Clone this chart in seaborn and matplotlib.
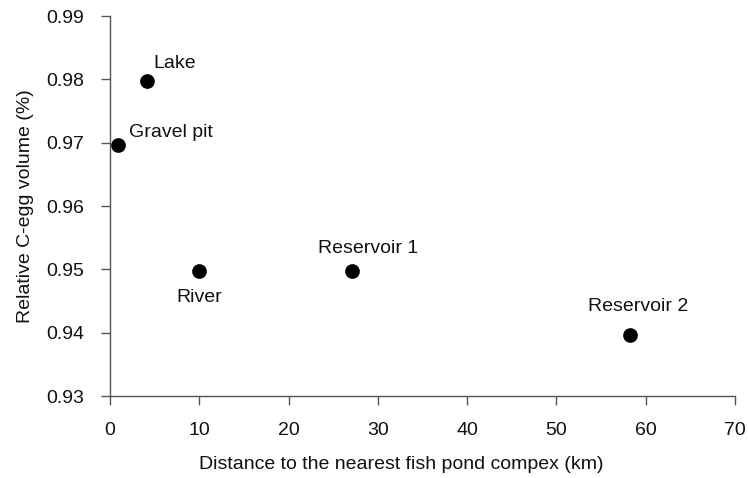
import pandas as pd
import matplotlib.pyplot as plt
import seaborn as sns

# values
sites = ["Gravel pit", "Lake", "River", "Reservoir 1", "Reservoir 2"]
distance_km = [0.9, 4.1, 10.0, 27.1, 58.2]
rel_volume = [0.9696, 0.9798, 0.9497, 0.9497, 0.9396]

# label offsets in pixels (left edge, baseline) from each point
label_offsets = [(11, 8), (7, 13), (-23, -31), (-34, 18), (-42, 24)]

df = pd.DataFrame({"Site": sites, "Distance": distance_km, "Volume": rel_volume})

sns.set_style("ticks")
plt.rcParams["font.family"] = ["Liberation Sans", "DejaVu Sans"]

fig = plt.figure(figsize=(7.48, 4.78), dpi=100)
ax = fig.add_axes([0.147, 0.1715, 0.8356, 0.795])

sns.scatterplot(data=df, x="Distance", y="Volume", ax=ax, color="black",
                s=112, edgecolor="black", linewidth=0, zorder=3)

for i, row in df.iterrows():
    dx, dy = label_offsets[i]
    ax.annotate(row["Site"], (row["Distance"], row["Volume"]),
                xytext=(dx, dy), textcoords="offset pixels",
                ha="left", va="baseline", fontsize=14, color="#111111")

yticks = [0.93, 0.94, 0.95, 0.96, 0.97, 0.98, 0.99]
ax.set_xlim(0, 70)
ax.set_ylim(0.93, 0.99)
ax.set_xticks(range(0, 71, 10))
ax.set_yticks(yticks)
ax.set_yticklabels([f"{v:.2f}" for v in yticks])
ax.tick_params(labelsize=14, length=6.5, width=1, color="#555555",
               labelcolor="#111111", direction="out", pad=12)
for side in ["left", "bottom"]:
    ax.spines[side].set_color("#555555")
    ax.spines[side].set_linewidth(1)
sns.despine(ax=ax)

ax.set_xlabel("Distance to the nearest fish pond compex (km)", fontsize=14, color="#111111")
ax.xaxis.set_label_coords(0.466, -0.18)
ax.xaxis.label.set_verticalalignment("center")
ax.set_ylabel("Relative C-egg volume (%)", fontsize=14, labelpad=9, color="#111111")

fig.savefig("out.png", dpi=100)
